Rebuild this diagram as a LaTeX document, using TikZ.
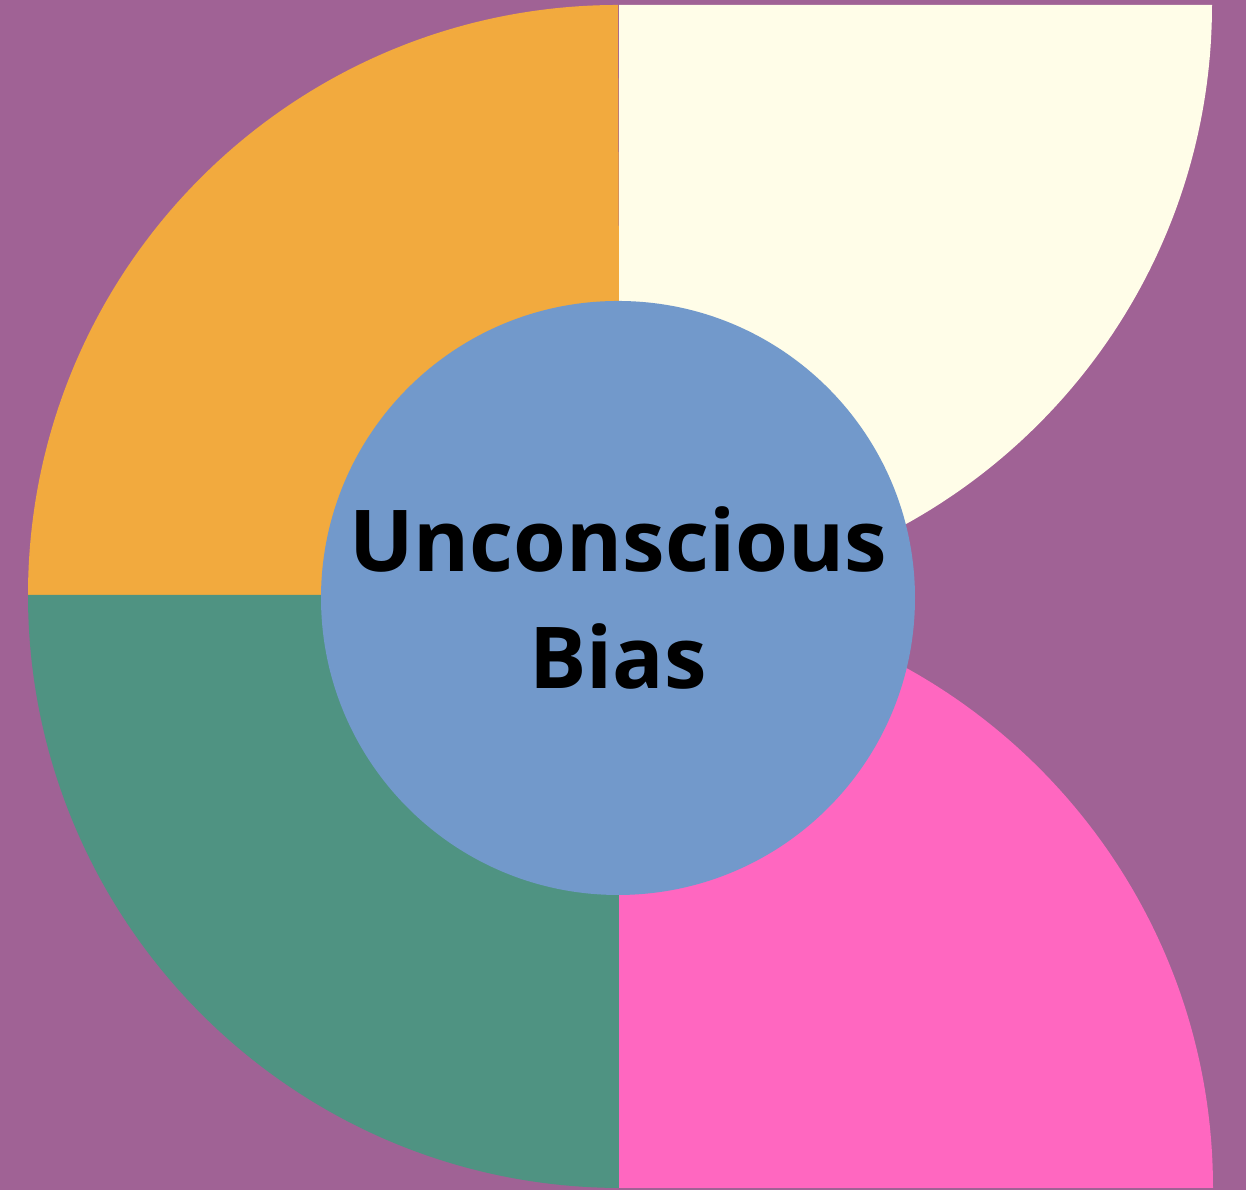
\documentclass[tikz,border=0pt]{standalone}
\usepackage{fontspec}
\setmainfont{Open Sans}
\definecolor{bgpurple}{HTML}{A06295}
\definecolor{quarterorange}{HTML}{F2AA3E}
\definecolor{quartercream}{HTML}{FFFDE8}
\definecolor{quartergreen}{HTML}{4F9382}
\definecolor{quarterpink}{HTML}{FF67C0}
\definecolor{hubblue}{HTML}{7299CB}
\begin{document}
\begin{tikzpicture}[line width=0.5pt]
  \fill[bgpurple] (0,0) rectangle (12.46,11.90);
  \useasboundingbox (0,0) rectangle (12.46,11.90);
  \coordinate (mid) at (6.20,5.95);
  \coordinate (top) at (6.19,11.85);
  \coordinate (bot) at (6.19,0.02);
  % left half: two quarters round the middle
  \fill[quarterorange] (mid) -- ++(-5.92,0) arc (180:90:5.90) -- cycle;
  \fill[quartergreen] (mid) -- ++(-5.92,0) arc (180:270:5.93) -- cycle;
  % right half: quarters hung from top and bottom edges
  \fill[quartercream] (top) -- ++(5.93,0) arc (0:-90:5.93) -- cycle;
  \fill[quarterpink] (bot) -- ++(5.94,0) arc (0:90:5.94) -- cycle;
  \node[circle, fill=hubblue, minimum size=5.94cm, inner sep=0pt,
        align=center, font=\bfseries\fontsize{24.3}{33.5}\selectfont] (hub)
    at (6.18,5.92) {Unconscious\\Bias};
\end{tikzpicture}
\end{document}
